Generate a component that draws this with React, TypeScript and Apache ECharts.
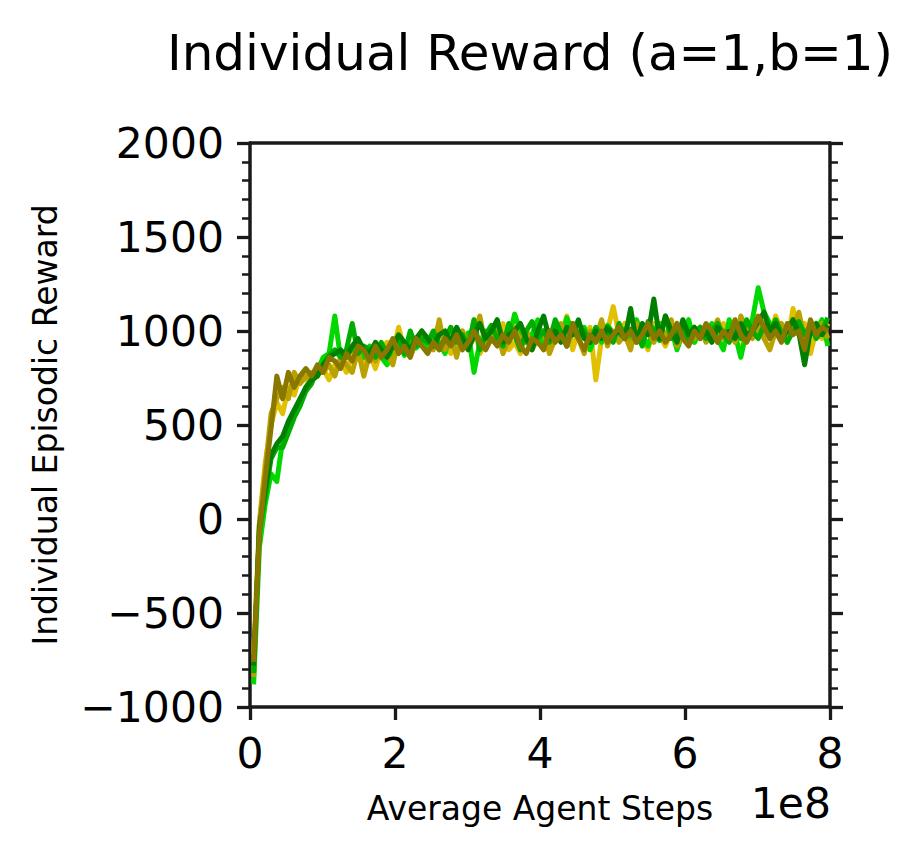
import React, { useEffect, useRef } from "react";
import * as echarts from "echarts";

// x positions in units of 1e8 agent steps
const xSteps: number[] = Array.from({ length: 100 }, (_, i) => +(0.05 + 0.08 * i).toFixed(2));

const seriesNames = ["run A", "run B", "run C", "run D", "run E", "run F"];

const runA = [
  -880, -150, 80, 240, 200, 420, 480, 560, 620, 700,
  740, 790, 860, 880, 1080, 850, 880, 900, 940, 860,
  920, 880, 860, 820, 900, 950, 870, 960, 910, 940,
  900, 980, 940, 880, 1000, 960, 920, 990, 780, 940,
  1000, 950, 1010, 900, 960, 1090, 1000, 940, 980, 1060,
  920, 1000, 980, 950, 1070, 1000, 960, 1020, 900, 980,
  940, 1030, 990, 960, 1010, 950, 1060, 980, 920, 1000,
  1040, 970, 1010, 900, 990, 1060, 940, 1000, 970, 1040,
  960, 900, 1060, 980, 860, 1000, 1060, 1230, 1100, 1040,
  980, 1010, 960, 1050, 1000, 960, 1020, 1000, 1060, 920,
];
const runB = [
  -820, -60, 120, 320, 380, 380, 460, 540, 600, 680,
  720, 800, 820, 870, 900, 860, 900, 1040, 880, 920,
  900, 860, 940, 880, 920, 960, 880, 1000, 920, 960,
  940, 1000, 900, 960, 1020, 940, 980, 920, 1060, 900,
  980, 1030, 960, 920, 1040, 980, 900, 1000, 1050, 960,
  1000, 940, 1060, 990, 920, 1040, 980, 1000, 940, 1020,
  970, 1000, 940, 1040, 960, 1010, 990, 920, 1050, 1000,
  950, 1080, 960, 1000, 1040, 930, 990, 1020, 960, 1000,
  1040, 980, 940, 1010, 960, 1060, 1000, 960, 1030, 980,
  1060, 990, 940, 1000, 1050, 980, 1030, 960, 1000, 1070,
];
const runC = [
  -780, -40, 160, 340, 400, 440, 520, 580, 640, 700,
  740, 760, 820, 860, 880, 900, 860, 920, 960, 900,
  880, 940, 900, 860, 920, 980, 940, 900, 960, 1000,
  960, 920, 980, 1000, 940, 1020, 960, 900, 980, 1040,
  960, 1000, 1060, 940, 980, 1000, 1040, 960, 900, 1000,
  1080, 960, 1000, 940, 1020, 980, 1060, 960, 940, 1000,
  960, 1020, 980, 1000, 960, 1120, 940, 1040, 980, 1170,
  960, 1080, 1000, 940, 1060, 980, 1020, 960, 1000, 940,
  1020, 980, 1000, 960, 1040, 980, 1000, 1050, 1100, 1000,
  1040, 960, 1000, 1060, 990, 820, 1000, 1040, 980, 1030,
];
const runD = [
  -720, -10, 300, 500, 620, 560, 700, 660, 760, 740,
  780, 760, 800, 740, 820, 840, 780, 880, 900, 820,
  880, 800, 900, 940, 880, 1020, 900, 860, 940, 1000,
  900, 960, 1040, 920, 880, 960, 1000, 900, 1060, 880,
  940, 1000, 960, 1040, 900, 940, 880, 1000, 960, 1020,
  900, 980, 1040, 960, 1080, 900, 1000, 960, 1020, 740,
  960, 1000, 1130, 980, 1040, 920, 1000, 960, 900, 1040,
  980, 920, 1000, 960, 1040, 1000, 940, 1020, 960, 1000,
  940, 1040, 1000, 960, 900, 980, 1040, 1000, 1060, 960,
  1080, 1000, 940, 1120, 980, 1040, 880, 1000, 960, 1040,
];
const runE = [
  -840, -30, 260, 560, 640, 700, 640, 780, 720, 760,
  740, 800, 780, 820, 760, 860, 820, 780, 900, 760,
  880, 840, 920, 880, 820, 960, 900, 980, 940, 1000,
  960, 900, 1060, 900, 980, 860, 1000, 920, 960, 1080,
  920, 960, 1000, 880, 960, 1020, 940, 1000, 900, 960,
  1000, 880, 960, 1040, 920, 1000, 960, 880, 1000, 960,
  1060, 920, 1000, 940, 980, 900, 1040, 960, 1000, 940,
  1000, 960, 1060, 920, 980, 1000, 960, 1020, 940, 980,
  1060, 960, 1000, 940, 1080, 1000, 960, 1040, 960, 900,
  1000, 1040, 960, 1010, 1100, 960, 1000, 980, 1040, 960,
];
const runF = [
  -760, -80, 220, 480, 760, 640, 780, 700, 760, 800,
  760, 820, 780, 860, 840, 800, 880, 840, 920, 900,
  840, 920, 860, 900, 960, 880, 920, 860, 960, 920,
  880, 940, 900, 960, 920, 980, 900, 940, 1000, 940,
  900, 960, 920, 980, 940, 1000, 920, 880, 960, 940,
  900, 1000, 940, 980, 920, 1040, 960, 900, 980, 940,
  1000, 940, 980, 1020, 960, 1000, 940, 980, 1040, 960,
  1000, 940, 980, 1040, 960, 920, 1000, 960, 1040, 1000,
  940, 1000, 960, 1060, 980, 940, 1000, 1080, 1020, 960,
  1000, 940, 1040, 980, 1000, 900, 1060, 980, 1020, 1000,
];

const xTicks = [0, 2, 4, 6, 8];
const yTicks = [-1000, -500, 0, 500, 1000, 1500, 2000];

const FONT = "DejaVu Sans";
const INK = "#1a1a1a";
const TICK_FONT = 42.5;

function yAxisFor(position: "left" | "right", showLabels: boolean) {
  return {
    type: "value",
    position,
    min: yTicks[0],
    max: yTicks[yTicks.length - 1],
    interval: 500,
    splitLine: { show: false },
    axisLine: { show: true, onZero: false, lineStyle: { color: INK, width: 3.5 } },
    axisTick: { show: true, inside: false, length: 13, lineStyle: { color: INK, width: 3.3 } },
    minorTick: { show: true, splitNumber: 5, length: 8, lineStyle: { color: INK, width: 2.5 } },
    minorSplitLine: { show: false },
    axisLabel: showLabels
      ? {
          show: true,
          margin: 26,
          fontSize: TICK_FONT,
          fontFamily: FONT,
          color: "#000",
          formatter: (v: number) => (v < 0 ? "\u2212" + Math.abs(v) : String(v)),
        }
      : { show: false },
  };
}

export default function App() {
  const ref = useRef<HTMLDivElement>(null);
  useEffect(() => {
    document.body.style.margin = "0";
    if (!ref.current) return;
    const chart = echarts.init(ref.current, undefined, { renderer: "svg" });

    const order: { name: string; data: number[]; color: string }[] = [
      { name: seriesNames[3], data: runD, color: "#e0c000" },
      { name: seriesNames[0], data: runA, color: "#00d800" },
      { name: seriesNames[4], data: runE, color: "#b9a100" },
      { name: seriesNames[1], data: runB, color: "#00ad00" },
      { name: seriesNames[2], data: runC, color: "#007f00" },
      { name: seriesNames[5], data: runF, color: "#8a7700" },
    ];

    const lineSeries = order.map((s) => ({
      name: s.name,
      type: "line",
      xAxisIndex: 0,
      yAxisIndex: 0,
      data: xSteps.map((x, i) => [x, s.data[i]]),
      showSymbol: false,
      symbol: "none",
      clip: true,
      lineStyle: { color: s.color, width: 5, join: "round" },
      itemStyle: { color: s.color },
    }));

    chart.setOption({
      animation: false,
      grid: { left: 250, right: 93, top: 143, bottom: 153, containLabel: false },
      xAxis: [
        {
          type: "value",
          min: 0,
          max: 8,
          interval: 2,
          position: "bottom",
          splitLine: { show: false },
          axisLine: { show: true, onZero: false, lineStyle: { color: INK, width: 3.5 } },
          axisTick: { show: true, inside: false, length: 13, lineStyle: { color: INK, width: 3.3 } },
          axisLabel: {
            show: true,
            margin: 25,
            fontSize: TICK_FONT,
            fontFamily: FONT,
            color: "#000",
            formatter: (v: number) => (xTicks.includes(v) ? String(v) : ""),
          },
        },
        {
          type: "value",
          min: 0,
          max: 8,
          interval: 2,
          position: "top",
          splitLine: { show: false },
          axisLine: { show: true, onZero: false, lineStyle: { color: INK, width: 3.5 } },
          axisTick: { show: false },
          axisLabel: { show: false },
        },
      ],
      yAxis: [yAxisFor("left", true), yAxisFor("right", false)],
      graphic: [
        {
          type: "text",
          x: 530,
          y: 53,
          style: {
            text: "Individual Reward (a=1,b=1)",
            fontSize: 50,
            fontFamily: FONT,
            fill: "#000",
            textAlign: "center",
            textVerticalAlign: "middle",
          },
        },
        {
          type: "text",
          x: 45,
          y: 425,
          rotation: Math.PI / 2,
          style: {
            text: "Individual Episodic Reward",
            fontSize: 33,
            fontFamily: FONT,
            fill: "#000",
            textAlign: "center",
            textVerticalAlign: "middle",
          },
        },
        {
          type: "text",
          x: 540,
          y: 808,
          style: {
            text: "Average Agent Steps",
            fontSize: 33,
            fontFamily: FONT,
            fill: "#000",
            textAlign: "center",
            textVerticalAlign: "middle",
          },
        },
        {
          type: "text",
          x: 831,
          y: 803,
          style: {
            text: "1e8",
            fontSize: TICK_FONT,
            fontFamily: FONT,
            fill: "#000",
            textAlign: "right",
            textVerticalAlign: "middle",
          },
        },
      ],
      series: [
        ...lineSeries,
        // empty series bound to the right/top axes so those spines are drawn
        {
          name: "frame",
          type: "line",
          xAxisIndex: 1,
          yAxisIndex: 1,
          data: [],
          showSymbol: false,
          silent: true,
        },
      ],
    });
    return () => chart.dispose();
  }, []);
  return <div ref={ref} style={{ width: 923, height: 860 }} />;
}
